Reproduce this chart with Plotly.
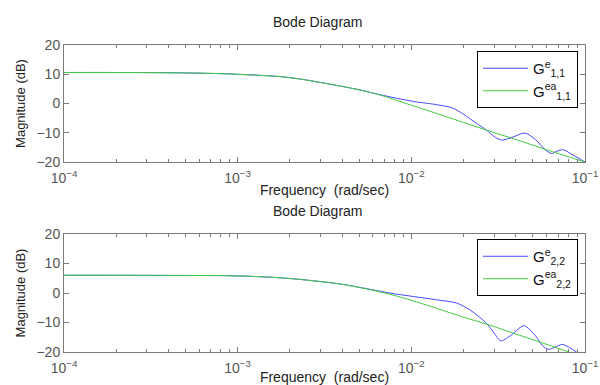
import plotly.graph_objects as go

# ---------------- data ----------------
freq_top_ea = [1e-4, 2e-4, 5e-4, 9e-4, 1.75e-3, 2.27e-3, 3.4e-3, 5e-3, 6.6e-3,
               1e-2, 1.5e-2, 2e-2, 2.71e-2, 4e-2, 6e-2, 1e-1]
mag_top_ea = [10.6, 10.6, 10.45, 10.1, 9.2, 8.4, 6.6, 4.7, 2.9,
              -0.6, -4.0, -6.5, -9.1, -12.3, -15.8, -20.0]

freq_top_e = [1e-4, 2e-4, 5e-4, 9e-4, 1.75e-3, 2.27e-3, 3.4e-3, 5e-3, 6.6e-3,
              1.03e-2, 1.4e-2, 1.74e-2, 2.08e-2, 2.4e-2, 2.71e-2, 3.0e-2, 3.31e-2,
              3.8e-2, 4.5e-2, 5.2e-2, 5.87e-2, 6.42e-2, 6.9e-2, 7.5e-2, 8.3e-2, 1e-1]
mag_top_e = [10.6, 10.6, 10.45, 10.1, 9.2, 8.4, 6.6, 4.7, 3.0,
             0.7, -0.4, -1.6, -4.4, -7.0, -9.1, -11.3, -12.5,
             -11.6, -10.1, -12.4, -15.7, -17.1, -16.3, -15.8, -17.2, -20.0]

freq_bot_ea = [1e-4, 2e-4, 5e-4, 9e-4, 1.5e-3, 2.2e-3, 3.9e-3, 5.5e-3, 7.5e-3,
               1.03e-2, 1.5e-2, 2e-2, 2.73e-2, 4e-2, 6e-2, 8e-2, 1e-1]
mag_bot_ea = [6.0, 6.0, 5.95, 5.85, 5.4, 4.7, 3.05, 1.4, -0.4,
              -2.7, -5.8, -8.2, -10.6, -13.9, -17.4, -19.9, -21.9]

freq_bot_e = [1e-4, 2e-4, 5e-4, 9e-4, 1.5e-3, 2.2e-3, 3.9e-3, 5.5e-3, 7.5e-3,
              1.03e-2, 1.4e-2, 1.82e-2, 2.17e-2, 2.45e-2, 2.73e-2, 3.0e-2, 3.27e-2,
              3.7e-2, 4.45e-2, 5.2e-2, 5.7e-2, 6.14e-2, 6.7e-2, 7.41e-2, 8.2e-2, 8.93e-2, 1e-1]
mag_bot_e = [6.0, 6.0, 5.95, 5.85, 5.4, 4.7, 3.05, 1.5, 0.0,
             -1.2, -2.3, -3.4, -5.7, -8.0, -10.5, -13.6, -16.2,
             -14.6, -11.1, -14.6, -17.9, -19.1, -18.4, -17.4, -18.6, -20.0, -22.5]

x_tick_vals = [1e-4, 1e-3, 1e-2, 1e-1]
x_tick_text = ["10<sup>\u22124</sup>", "10<sup>\u22123</sup>", "10<sup>\u22122</sup>", "10<sup>\u22121</sup>"]
x_minor_vals = [k * d for d in (1e-4, 1e-3, 1e-2) for k in range(2, 10)]
y_tick_vals = [-20, -10, 0, 10, 20]
y_tick_text = ["\u221220", "\u221210", "0", "10", "20"]

names_top = ["G<sup>e</sup><sub>1,1</sub>", "G<sup>ea</sup><sub>1,1</sub>"]
names_bot = ["G<sup>e</sup><sub>2,2</sub>", "G<sup>ea</sup><sub>2,2</sub>"]

BLUE = "#4848ff"
GREEN = "#3fcc3f"
AX = "#7a7a7a"
FONT = "Liberation Sans, Arial, sans-serif"

fig = go.Figure()
fig.add_trace(go.Scatter(x=freq_top_e, y=mag_top_e, mode="lines", name=names_top[0],
                         line=dict(color=BLUE, width=1, shape="spline", smoothing=0.8),
                         xaxis="x", yaxis="y", legend="legend"))
fig.add_trace(go.Scatter(x=freq_top_ea, y=mag_top_ea, mode="lines", name=names_top[1],
                         line=dict(color=GREEN, width=1, shape="spline", smoothing=0.8),
                         xaxis="x", yaxis="y", legend="legend"))
fig.add_trace(go.Scatter(x=freq_bot_e, y=mag_bot_e, mode="lines", name=names_bot[0],
                         line=dict(color=BLUE, width=1, shape="spline", smoothing=0.8),
                         xaxis="x2", yaxis="y2", legend="legend2"))
fig.add_trace(go.Scatter(x=freq_bot_ea, y=mag_bot_ea, mode="lines", name=names_bot[1],
                         line=dict(color=GREEN, width=1, shape="spline", smoothing=0.8),
                         xaxis="x2", yaxis="y2", legend="legend2"))

W, H = 600, 385
xdom = [64 / W, 585 / W]
ydom_top = [1 - 162 / H, 1 - 45 / H]
ydom_bot = [1 - 352 / H, 1 - 234 / H]

def xaxis(anchor, title):
    return dict(type="log", range=[-4, -1], domain=xdom, anchor=anchor, automargin=False,
                tickmode="array", tickvals=x_tick_vals, ticktext=x_tick_text,
                ticks="inside", ticklen=5, tickcolor=AX, showline=True, linecolor=AX,
                linewidth=1, mirror="allticks", showgrid=False, zeroline=False,
                ticklabelstandoff=3,
                minor=dict(tickmode="array", tickvals=x_minor_vals, ticks="inside",
                           ticklen=3, tickcolor=AX, showgrid=False),
                tickfont=dict(family=FONT, size=14, color="#555555"),
                title=dict(text=title, standoff=0,
                           font=dict(family=FONT, size=14, color="#222222")))

def yaxis(anchor):
    return dict(range=[-20, 20], anchor=anchor, automargin=False,
                tickmode="array", tickvals=y_tick_vals, ticktext=y_tick_text,
                ticks="inside", ticklen=5, tickcolor=AX, showline=True, linecolor=AX,
                linewidth=1, mirror="allticks", showgrid=False, zeroline=False,
                tickfont=dict(family=FONT, size=14, color="#555555"),
                title=dict(text="Magnitude (dB)", standoff=7,
                           font=dict(family=FONT, size=13, color="#222222")))

ya1 = yaxis("x"); ya1["domain"] = ydom_top
ya2 = yaxis("x2"); ya2["domain"] = ydom_bot

legend_common = dict(bordercolor="black", borderwidth=1, bgcolor="white",
                     xanchor="right", yanchor="top",
                     font=dict(family=FONT, size=15, color="#111111"),
                     itemwidth=45, tracegroupgap=0)

fig.update_layout(
    width=W, height=H,
    margin=dict(l=0, r=0, t=0, b=0),
    paper_bgcolor="white", plot_bgcolor="white",
    font=dict(family=FONT),
    xaxis=xaxis("y", "Frequency\u00a0 (rad/sec)"),
    yaxis=ya1,
    xaxis2=xaxis("y2", "Frequency\u00a0 (rad/sec)"),
    yaxis2=ya2,
    legend=dict(x=578 / W, y=1 - 51 / H, **legend_common),
    legend2=dict(x=578 / W, y=1 - 239 / H, **legend_common),
    annotations=[
        dict(text="Bode Diagram", x=318 / W, y=1 - 22 / H,
             xref="paper", yref="paper", showarrow=False, yanchor="middle",
             font=dict(family=FONT, size=14, color="#222222")),
        dict(text="Bode Diagram", x=318 / W, y=1 - 211 / H,
             xref="paper", yref="paper", showarrow=False, yanchor="middle",
             font=dict(family=FONT, size=14, color="#222222")),
    ],
)

fig.write_html("out.html")
